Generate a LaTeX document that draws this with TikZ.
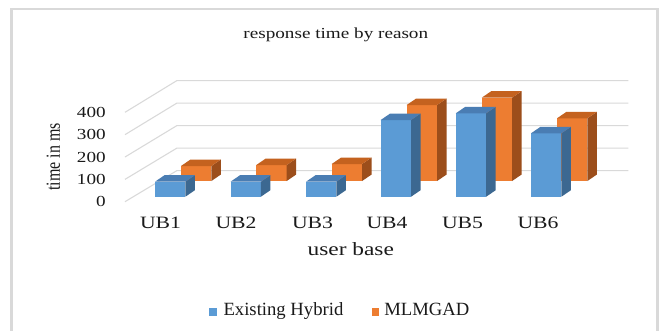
\documentclass[tikz,border=0pt]{standalone}
\usepackage{fontspec}
\setmainfont{Liberation Serif}
\newfontfamily\widefont[FakeStretch=1.25]{Liberation Serif}
\definecolor{gridc}{HTML}{D9D9D9}
\definecolor{framec}{HTML}{D9D9D9}
\definecolor{bfront}{HTML}{5B9BD5}
\definecolor{btop}{HTML}{4A7DB3}
\definecolor{bside}{HTML}{3C6891}
\definecolor{ofront}{HTML}{ED7D31}
\definecolor{otop}{HTML}{C4621F}
\definecolor{oside}{HTML}{9C4E1B}
\definecolor{txt}{HTML}{1A1A1A}
\newcommand\chartbar[6]{%
  \fill[#4] (#1,#2) rectangle ++(30.4,-#3);
  \fill[#6] (#1+30.4,#2) -- ++(9.5,-6.5) -- ++(0,-#3) -- ++(-9.5,6.5) -- cycle;
  \fill[#5] (#1,#2-#3) -- ++(30.4,0) -- ++(9.5,-6.5) -- ++(-30.4,0) -- cycle;
}
\tikzset{
  gridline/.style={draw=gridc, line width=0.8pt},
  ticklab/.style={anchor=east, text=txt, inner sep=0pt, font=\widefont\fontsize{11.5}{13}\selectfont},
  catlab/.style={text=txt, inner sep=0pt, font=\widefont\fontsize{13}{15}\selectfont},
  legtext/.style={anchor=base west, text=txt, inner sep=0pt, font=\fontsize{14}{16}\selectfont},
}
\begin{document}
\begin{tikzpicture}[x=0.75pt, y=-0.75pt]
\useasboundingbox (0,0) rectangle (664,330);
\clip (0,0) rectangle (664,330);
\fill[white] (0,0) rectangle (664,330);
\draw[framec, line width=2pt] (11.7,9) rectangle (657.5,345);
% title
\node[text=txt, inner sep=0pt, font=\widefont\fontsize{11.5}{13}\selectfont] (title) at (335.8,34.5) {response time by reason};
% grid
\foreach \k in {0,...,4}{
  \draw[gridline] (125,{201.7-22.35*\k}) -- (176.7,{170.7-22.5*\k}) -- (628.3,{170.7-22.5*\k});
}
\foreach \k/\lab in {0/0,1/100,2/200,3/300,4/400}{
  \node[ticklab] (tick\k) at (106,{201.7-22.35*\k}) {\lab};
}
\node[rotate=90, text=txt, inner sep=0pt, font=\fontsize{12}{14}\selectfont] (ylab) at (53.3,156.7) {\scalebox{1}[1.25]{time in ms}};
% orange series (back row)
\chartbar{181}{181}{15}{ofront}{otop}{oside}
\chartbar{256.3}{181}{16}{ofront}{otop}{oside}
\chartbar{331.7}{181}{17}{ofront}{otop}{oside}
\chartbar{406.7}{181}{76}{ofront}{otop}{oside}
\chartbar{481.7}{181}{83.3}{ofront}{otop}{oside}
\chartbar{557}{181}{62.7}{ofront}{otop}{oside}
% blue series (front row)
\chartbar{155}{196.7}{15}{bfront}{btop}{bside}
\chartbar{230.5}{196.7}{15}{bfront}{btop}{bside}
\chartbar{306}{196.7}{15}{bfront}{btop}{bside}
\chartbar{380.7}{196.7}{76.7}{bfront}{btop}{bside}
\chartbar{455.8}{196.7}{83.4}{bfront}{btop}{bside}
\chartbar{531}{196.7}{63.4}{bfront}{btop}{bside}
% category labels
\node[catlab] (ub1) at (160.5,222.5) {UB1};
\node[catlab] (ub2) at (236,222.5) {UB2};
\node[catlab] (ub3) at (312.5,222.5) {UB3};
\node[catlab] (ub4) at (387,222.5) {UB4};
\node[catlab] (ub5) at (462.5,222.5) {UB5};
\node[catlab] (ub6) at (538,222.5) {UB6};
\node[text=txt, inner sep=0pt, font=\widefont\fontsize{14}{16}\selectfont] (xlab) at (350.8,249) {user base};
% legend
\fill[bfront] (209.3,308.3) rectangle (217.3,316);
\node[legtext] (leg1) at (223.3,315.7) {Existing Hybrid};
\fill[ofront] (371.7,308.3) rectangle (379.3,316);
\node[legtext] (leg2) at (384,315.7) {MLMGAD};
\end{tikzpicture}
\end{document}
